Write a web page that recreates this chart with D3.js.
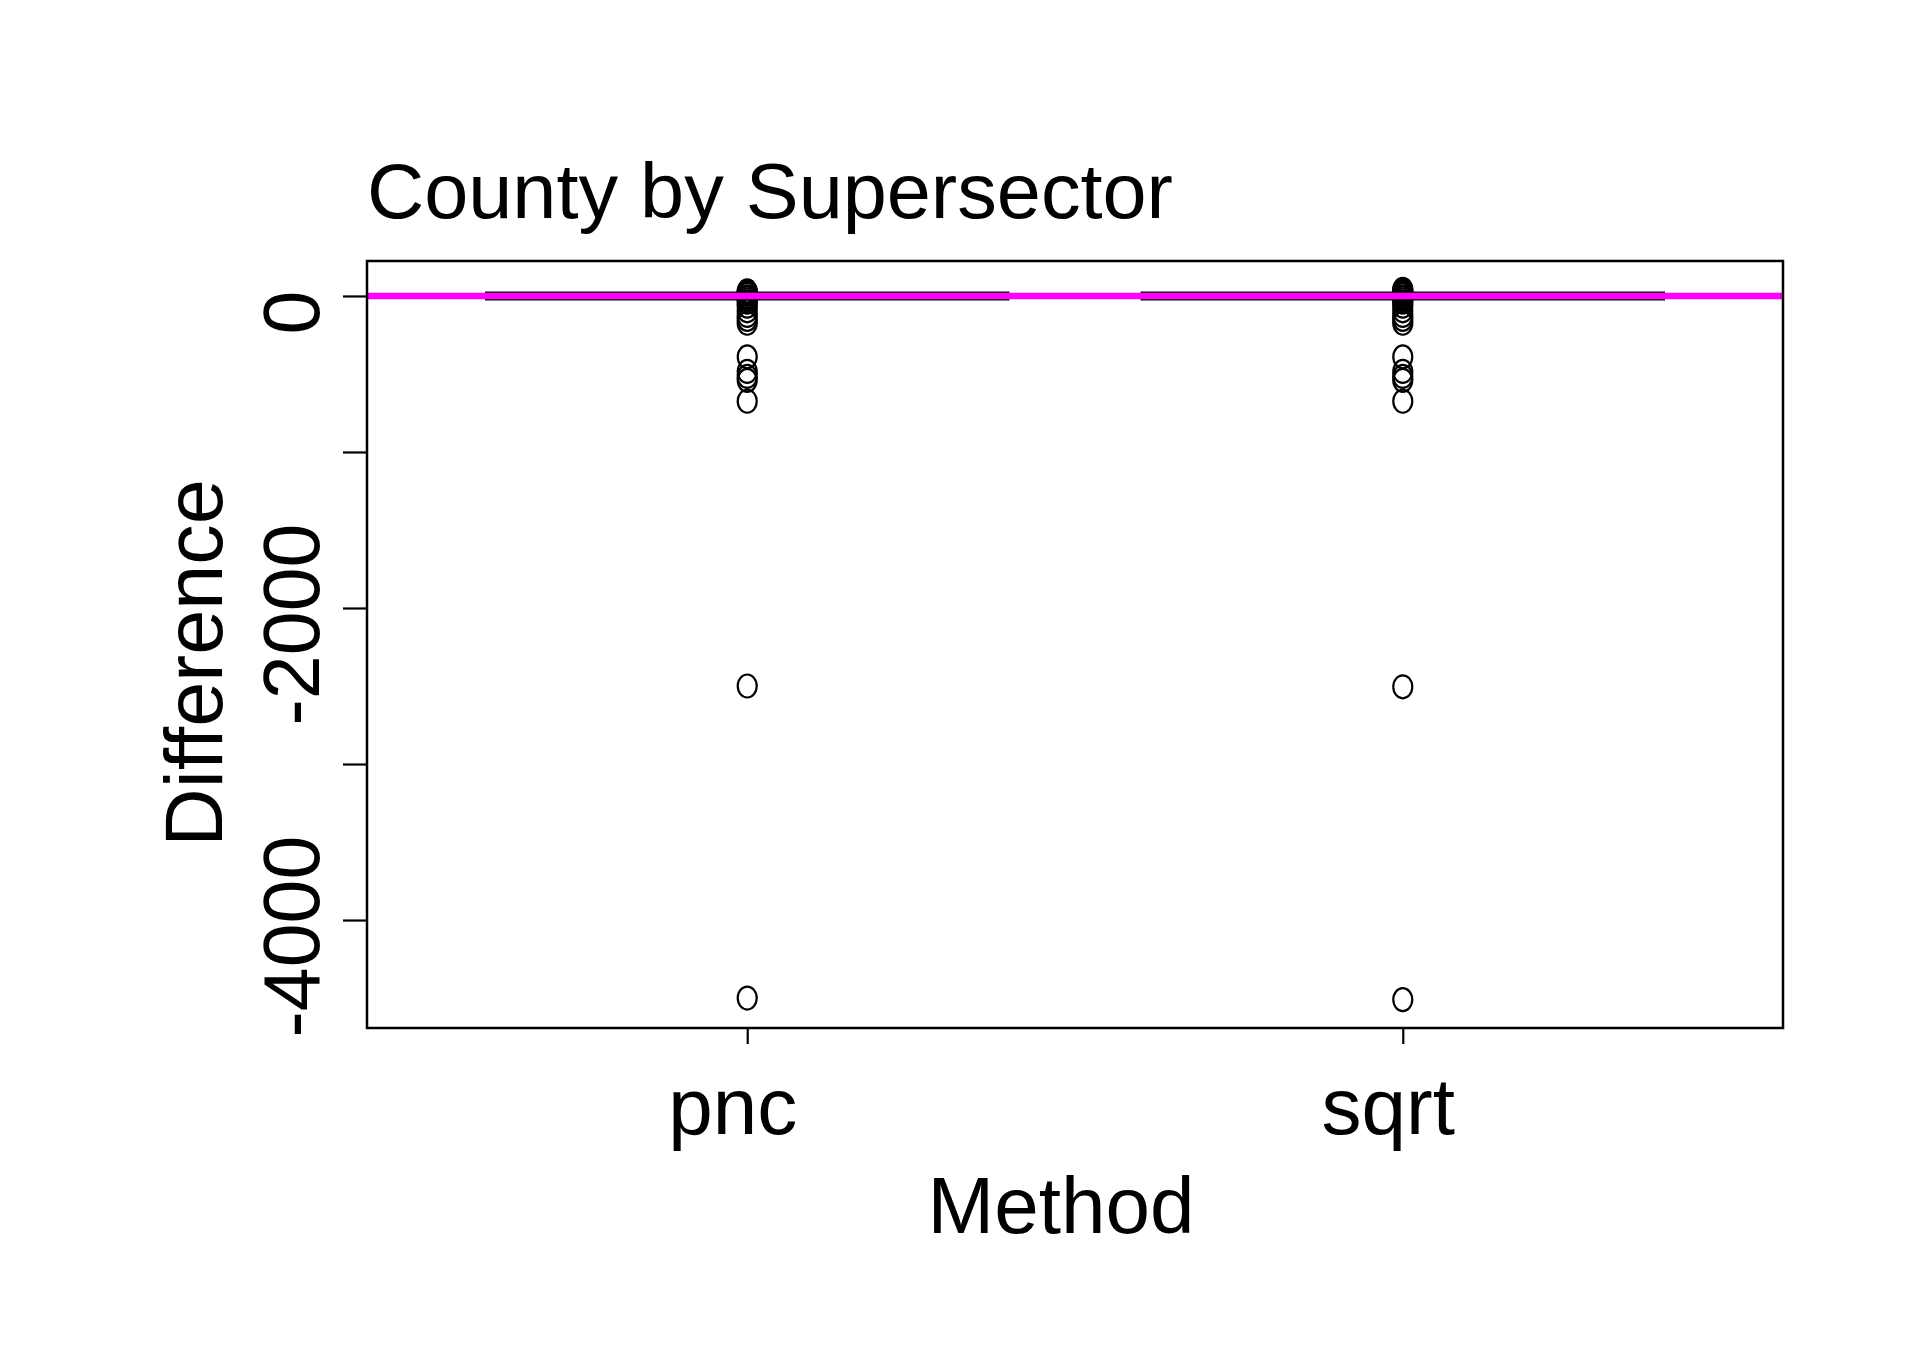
<!DOCTYPE html>
<html>
<head>
<meta charset="utf-8">
<script src="https://cdn.jsdelivr.net/npm/d3@7"></script>
<style>
body { margin: 0; background: #fff; }
text { font-family: "Liberation Sans", Arial, sans-serif; fill: #000; }
</style>
</head>
<body>
<div id="chart"></div>
<script>
// boxplot stats per method (all collapse to 0)
const methods = ["pnc", "sqrt"]
const boxQ1 = [0, 0]
const boxMedian = [0, 0]
const boxQ3 = [0, 0]
const whiskerLow = [0, 0]
const whiskerHigh = [0, 0]
// outliers
const pncOutliers = [32, 25, 18, 10, -5, -12, -25, -40, -65, -95, -125, -150, -175, -390, -484, -516, -541, -675, -2500, -4500]
const sqrtOutliers = [42, 34, 26, 16, 8, -5, -12, -25, -40, -65, -95, -125, -150, -175, -390, -484, -516, -541, -675, -2505, -4510]
const yTicks = [0, -1000, -2000, -3000, -4000]
const refLine = 0
const title = "County by Supersector"
const xTitle = "Method"
const yTitle = "Difference"

const outliers = [pncOutliers, sqrtOutliers]

var width = 1929, height = 1357
var plot = {left: 367, right: 1783, top: 261, bottom: 1028}

var svg = d3.select("#chart").append("svg")
    .attr("width", width)
    .attr("height", height)

// R style: xlim 0.5..2.5 plus 4%, ylim data range plus 4%
var xScale = d3.scaleLinear()
    .domain([0.42, 2.58])
    .range([plot.left, plot.right])

var allVals = [].concat(...outliers, boxQ1, boxQ3, whiskerLow, whiskerHigh)
var ext = d3.extent(allVals)
var pad = (ext[1] - ext[0]) * 0.04
var yScale = d3.scaleLinear()
    .domain([ext[0] - pad, ext[1] + pad])
    .range([plot.bottom, plot.top])

// x axis
var xAxis = svg.append("g")
    .attr("transform", "translate(0," + plot.bottom + ")")
    .call(d3.axisBottom(xScale).tickValues([1, 2]).tickFormat(function(d) { return methods[d - 1] })
        .tickSize(16).tickPadding(33))
xAxis.select(".domain").remove()
xAxis.selectAll("line").attr("stroke", "#000").attr("stroke-width", 2.2)
xAxis.selectAll("text")
    .attr("fill", "#000")
    .attr("dx", -15)
    .style("font-size", "80px")
    .style("font-family", "'Liberation Sans', Arial, sans-serif")

// y axis
var yAxis = svg.append("g")
    .attr("transform", "translate(" + plot.left + ",0)")
    .call(d3.axisLeft(yScale).tickValues(yTicks)
        .tickFormat(function(d) { return d % 2000 == 0 ? d3.format("d")(d).replace("−", "-") : "" })
        .tickSize(24))
yAxis.select(".domain").remove()
yAxis.selectAll("line").attr("stroke", "#000").attr("stroke-width", 2.2)
yAxis.selectAll("text")
    .attr("fill", "#000")
    .attr("x", 0)
    .attr("dy", null)
    .attr("text-anchor", "middle")
    .attr("transform", "translate(" + (319 - plot.left) + ",16) rotate(-90)")
    .style("font-size", "79px")
    .style("font-family", "'Liberation Sans', Arial, sans-serif")

// boxes
var g = svg.append("g")
methods.forEach(function(m, i) {
    var cx = xScale(i + 1)
    var x0 = xScale(i + 1 - 0.4), x1 = xScale(i + 1 + 0.4)
    g.append("line")
        .attr("x1", cx).attr("x2", cx)
        .attr("y1", yScale(whiskerLow[i])).attr("y2", yScale(boxQ1[i]))
        .attr("stroke", "#000").attr("stroke-width", 2.2).attr("stroke-dasharray", "8,8")
    g.append("line")
        .attr("x1", cx).attr("x2", cx)
        .attr("y1", yScale(boxQ3[i])).attr("y2", yScale(whiskerHigh[i]))
        .attr("stroke", "#000").attr("stroke-width", 2.2).attr("stroke-dasharray", "8,8")
    g.append("rect")
        .attr("x", x0).attr("width", x1 - x0)
        .attr("y", yScale(boxQ3[i]))
        .attr("height", yScale(boxQ1[i]) - yScale(boxQ3[i]))
        .attr("fill", "none").attr("stroke", "#000").attr("stroke-width", 2.2)
    g.append("line")
        .attr("x1", x0).attr("x2", x1)
        .attr("y1", yScale(boxMedian[i])).attr("y2", yScale(boxMedian[i]))
        .attr("stroke", "#000").attr("stroke-width", 9)
    g.selectAll(".out" + i)
        .data(outliers[i])
      .enter().append("ellipse")
        .attr("cx", cx)
        .attr("cy", function(d) { return yScale(d) })
        .attr("rx", 9.5).attr("ry", 11.5)
        .attr("fill", "none").attr("stroke", "#000").attr("stroke-width", 2.2)
})

// reference line
svg.append("line")
    .attr("x1", plot.left).attr("x2", plot.right)
    .attr("y1", yScale(refLine)).attr("y2", yScale(refLine))
    .attr("stroke", "#ff00ff").attr("stroke-width", 6.5)

// frame
svg.append("rect")
    .attr("x", plot.left).attr("y", plot.top)
    .attr("width", plot.right - plot.left).attr("height", plot.bottom - plot.top)
    .attr("fill", "none").attr("stroke", "#000").attr("stroke-width", 2.5)

// titles
svg.append("text")
    .attr("x", plot.left).attr("y", 218)
    .attr("textLength", 806).attr("lengthAdjust", "spacingAndGlyphs")
    .style("font-size", "77px")
    .text(title)

svg.append("text")
    .attr("x", 1061).attr("y", 1233)
    .attr("text-anchor", "middle")
    .style("font-size", "80px")
    .text(xTitle)

svg.append("text")
    .attr("transform", "translate(222,663) rotate(-90)")
    .attr("text-anchor", "middle")
    .style("font-size", "81px")
    .text(yTitle)
</script>
</body>
</html>
